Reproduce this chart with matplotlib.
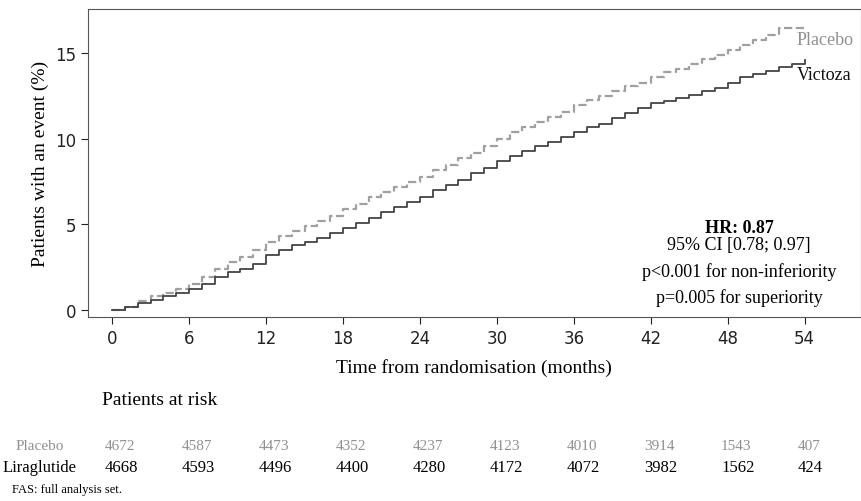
import matplotlib.pyplot as plt

months = [0, 1, 2, 3, 4, 5, 6, 7, 8, 9, 10, 11, 12, 13, 14, 15, 16, 17, 18, 19, 20, 21, 22, 23, 24, 25, 26, 27,
          28, 29, 30, 31, 32, 33, 34, 35, 36, 37, 38, 39, 40, 41, 42, 43, 44, 45, 46, 47, 48, 49, 50, 51, 52, 53, 54]
victoza = [0, 0.15, 0.4, 0.6, 0.8, 1.0, 1.2, 1.5, 1.9, 2.2, 2.4, 2.7, 3.2, 3.5, 3.8, 4.0, 4.2, 4.5, 4.8, 5.1, 5.4,
           5.7, 6.0, 6.3, 6.6, 7.0, 7.3, 7.6, 8.0, 8.3, 8.7, 9.0, 9.3, 9.6, 9.8, 10.1, 10.4, 10.7, 10.9, 11.2, 11.5,
           11.8, 12.1, 12.2, 12.4, 12.6, 12.8, 13.0, 13.3, 13.6, 13.8, 14.0, 14.2, 14.4, 14.6]
placebo = [0, 0.2, 0.5, 0.8, 1.0, 1.2, 1.5, 1.9, 2.4, 2.8, 3.1, 3.5, 4.0, 4.3, 4.6, 4.9, 5.2, 5.5, 5.9, 6.2, 6.6,
           6.9, 7.2, 7.5, 7.8, 8.2, 8.5, 8.9, 9.2, 9.6, 10.0, 10.4, 10.7, 11.0, 11.3, 11.6, 12.0, 12.3, 12.5, 12.8,
           13.1, 13.3, 13.6, 13.9, 14.1, 14.4, 14.7, 14.9, 15.2, 15.5, 15.8, 16.1, 16.5, 16.5, 16.5]

risk_months = [0, 6, 12, 18, 24, 30, 36, 42, 48, 54]
risk_placebo = [4672, 4587, 4473, 4352, 4237, 4123, 4010, 3914, 1543, 407]
risk_lira = [4668, 4593, 4496, 4400, 4280, 4172, 4072, 3982, 1562, 424]

serif = 'Liberation Serif'
fig = plt.figure(figsize=(8.61, 5.02), dpi=100)
ax = fig.add_axes([0.102, 0.367, 0.898, 0.613])
ax.step(months, placebo, where='post', color='#a0a0a0', ls='--', lw=1.6)
ax.step(months, victoza, where='post', color='#444444', lw=1.3)
ax.set_xlim(-1.9, 58.4)
ax.set_ylim(-0.4, 17.6)
ax.set_xticks(range(0, 55, 6))
ax.set_yticks([0, 5, 10, 15])
ax.tick_params(labelsize=12, colors='#222222', length=5)
for s in ax.spines.values():
    s.set_color('#555555')
ax.set_ylabel('Patients with an event (%)', family=serif, fontsize=14)
ax.set_xlabel('Time from randomisation (months)', family=serif, fontsize=14, labelpad=8)

ax.text(53.4, 15.8, 'Placebo', family=serif, fontsize=13, color='#909090', va='center')
ax.text(53.4, 13.8, 'Victoza', family=serif, fontsize=13, color='#111111', va='center')
ax.text(48.9, 4.85, 'HR: 0.87', family=serif, fontsize=13, fontweight='bold', ha='center', va='center')
ax.text(48.9, 3.8, '95% CI [0.78; 0.97]', family=serif, fontsize=13, ha='center', va='center')
ax.text(48.9, 2.3, 'p<0.001 for non-inferiority', family=serif, fontsize=13, ha='center', va='center')
ax.text(48.9, 0.75, 'p=0.005 for superiority', family=serif, fontsize=13, ha='center', va='center')

fig.text(102 / 861, 1 - 401 / 502, 'Patients at risk', family=serif, fontsize=14, va='center')

def xfig(m):
    return (112 + m * (805 - 112) / 54) / 861

fig.text(16 / 861, 1 - 447 / 502, 'Placebo', family=serif, fontsize=11, color='#909090', va='center')
fig.text(3 / 861, 1 - 468 / 502, 'Liraglutide', family=serif, fontsize=12, va='center')
for m, p, l in zip(risk_months, risk_placebo, risk_lira):
    fig.text(xfig(m) - 0.008, 1 - 447 / 502, str(p), family=serif, fontsize=11, color='#909090', va='center')
    fig.text(xfig(m) - 0.008, 1 - 468 / 502, str(l), family=serif, fontsize=12, va='center')
fig.text(12 / 861, 1 - 490 / 502, 'FAS: full analysis set.', family=serif, fontsize=9, va='center')
fig.savefig('out.png', dpi=100)
